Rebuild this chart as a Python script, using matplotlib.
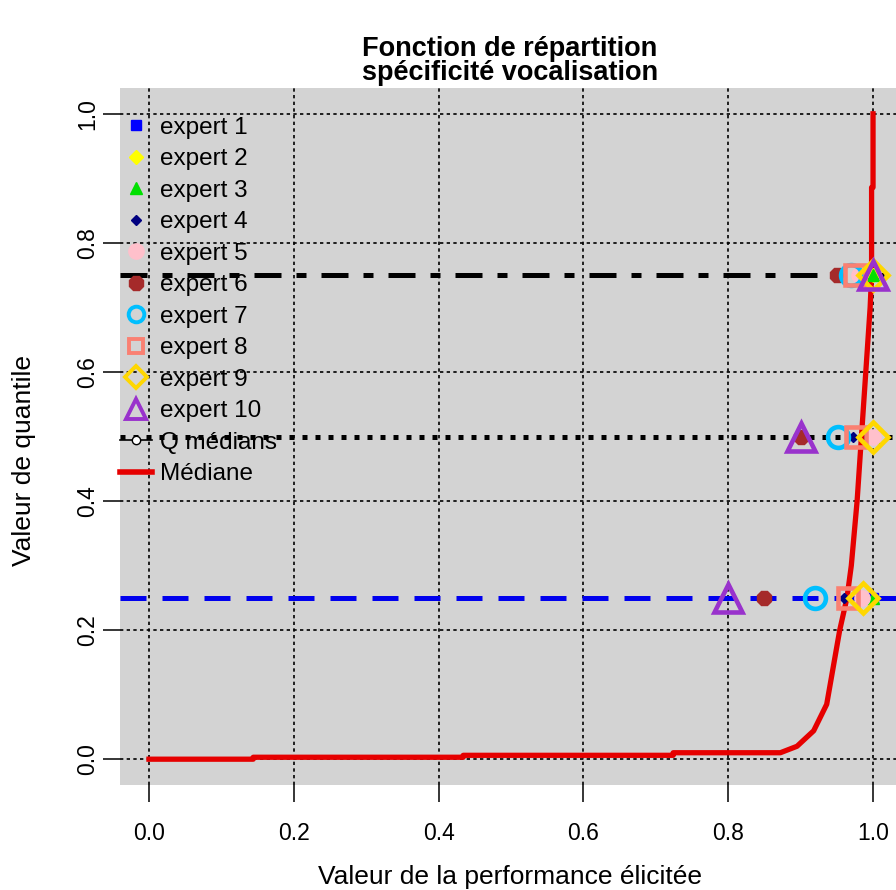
import matplotlib
matplotlib.use("Agg")
import matplotlib.pyplot as plt
from matplotlib.lines import Line2D

plt.rcParams['font.family'] = ['Liberation Sans', 'DejaVu Sans']

# ---- data ----
quantiles = [0.25, 0.5, 0.75]
experts = ["expert 1", "expert 2", "expert 3", "expert 4", "expert 5",
           "expert 6", "expert 7", "expert 8", "expert 9", "expert 10"]
# elicited values for the quantiles 0.25, 0.5, 0.75
expert_values = {
    "expert 1": [1.00, 1.00, 1.00],
    "expert 2": [0.985, 1.00, 1.00],
    "expert 3": [1.00, 1.00, 1.00],
    "expert 4": [0.96, 0.973, 0.98],
    "expert 5": [0.985, 1.00, 0.98],
    "expert 6": [0.85, 0.90, 0.95],
    "expert 7": [0.92, 0.952, 0.97],
    "expert 8": [0.965, 0.977, 0.975],
    "expert 9": [0.986, 1.00, 1.00],
    "expert 10": [0.80, 0.90, 1.00],
}
median_x = [0.0, 0.144, 0.144, 0.434, 0.434, 0.724, 0.724, 0.872, 0.895, 0.918,
            0.936, 0.954, 0.964, 0.970, 0.978, 0.984, 0.990, 0.996, 0.998,
            0.998, 1.0, 1.0]
median_y = [0.0, 0.0, 0.003, 0.003, 0.006, 0.006, 0.010, 0.010, 0.020, 0.044,
            0.085, 0.20, 0.25, 0.30, 0.40, 0.50, 0.60, 0.70, 0.75,
            0.886, 0.886, 1.0]
xticks = [0.0, 0.2, 0.4, 0.6, 0.8, 1.0]
yticks = [0.0, 0.2, 0.4, 0.6, 0.8, 1.0]

# ---- styles ----
styles = {
    "expert 1": dict(marker='s', color='#0000FF', ms=7, filled=True),
    "expert 2": dict(marker='D', color='#FFFF00', ms=7, filled=True),
    "expert 3": dict(marker='^', color='#00E000', ms=9, filled=True),
    "expert 4": dict(marker='D', color='#000080', ms=5, filled=True),
    "expert 5": dict(marker='o', color='#FFC0CB', ms=11, filled=True),
    "expert 6": dict(marker='8', color='#A52A2A', ms=11, filled=True),
    "expert 7": dict(marker='o', color='#00BFFF', ms=15, filled=False),
    "expert 8": dict(marker='s', color='#FA8072', ms=14, filled=False),
    "expert 9": dict(marker='D', color='#FFD700', ms=15, filled=False),
    "expert 10": dict(marker='^', color='#9932CC', ms=20, filled=False),
}

fig = plt.figure(figsize=(8.96, 8.90), dpi=100)
ax = fig.add_axes([120/896, 1-785/890, (902-120)/896, (785-88)/890])
ax.set_xlim(-0.04, 1.04)
ax.set_ylim(-0.04, 1.04)
ax.set_facecolor('#D3D3D3')
for s in ax.spines.values():
    s.set_visible(False)

ax.set_xticks(xticks)
ax.set_yticks(yticks)
ax.set_xticklabels([f"{v:.1f}" for v in xticks])
ax.set_yticklabels([f"{v:.1f}" for v in yticks], rotation=90, va='center')
ax.tick_params(axis='both', length=12, width=1.1, color='black', labelsize=16.5)
ax.tick_params(axis='x', pad=15)
ax.tick_params(axis='y', pad=3)
ax.grid(True, color='black', linestyle=(0, (2, 2)), linewidth=1.2)
ax.set_axisbelow(True)

# quantile lines
ax.axhline(quantiles[2], color='black', lw=3.6, linestyle=(0, (5.4, 3, 2, 3)), zorder=2)
ax.axhline(quantiles[1], color='black', lw=3.6, linestyle=(0, (1, 1.6)), zorder=2)
ax.axhline(quantiles[0], color='#0000EE', lw=3.6, linestyle=(0, (5.2, 3.2)), zorder=2)

# median curve
ax.plot(median_x, median_y, color='#E60000', lw=3.8, zorder=3)

# expert points
z = 4
for name in experts:
    st = styles[name]
    if st['filled']:
        ax.plot(expert_values[name], quantiles, linestyle='none', marker=st['marker'],
                ms=st['ms'], color=st['color'], mec=st['color'], zorder=z)
    else:
        ax.plot(expert_values[name], quantiles, linestyle='none', marker=st['marker'],
                ms=st['ms'], mfc='none', mec=st['color'], mew=3.3, zorder=z)
    z += 1

# legend
handles = []
for name in experts:
    st = styles[name]
    if st['filled']:
        h = Line2D([], [], linestyle='none', marker=st['marker'], ms=st['ms'],
                   color=st['color'])
    else:
        h = Line2D([], [], linestyle='none', marker=st['marker'], ms=st['ms']*0.75,
                   mfc='none', mec=st['color'], mew=2.8)
    handles.append(h)
handles.append(Line2D([], [], color='black', lw=1.2, marker='o', ms=6, mfc='white', mec='black'))
handles.append(Line2D([], [], color='#E60000', lw=4))
labels = experts + ["Q médians", "Médiane"]
ax.legend(handles, labels, loc='upper left', bbox_to_anchor=(0.0, 0.959), frameon=False,
          fontsize=17.5, handlelength=1.3, handletextpad=0.35, labelspacing=0.39,
          borderpad=0, borderaxespad=0)

fig.suptitle("Fonction de répartition\nspécificité vocalisation", x=510/896, y=1-36/890,
             fontsize=19.5, fontweight='bold', va='top', linespacing=0.92)
fig.text(510/896, 1-877/890, "Valeur de la performance élicitée", ha='center', va='center',
         fontsize=19)
fig.text(24/896, 1-460/890, "Valeur de quantile", ha='center', va='center', rotation=90,
         fontsize=19)

fig.savefig("out.png", dpi=100)
